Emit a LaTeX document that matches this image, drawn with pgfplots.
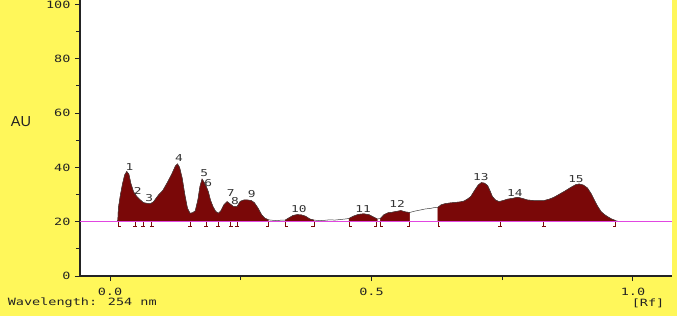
\documentclass[border=0pt]{standalone}
\usepackage{fontspec}
\setmainfont{Liberation Sans}
\newfontfamily\pixfont[FakeStretch=1.35]{DejaVu Sans Mono}
\usepackage{pgfplots}
\pgfplotsset{compat=1.18}
\definecolor{bgyellow}{RGB}{255,247,90}
\definecolor{peakred}{RGB}{122,8,8}
\definecolor{basemag}{RGB}{225,70,225}
\definecolor{axgray}{RGB}{35,35,35}

\pgfdeclareplotmark{brL}{\pgfpathmoveto{\pgfqpoint{0pt}{0pt}}\pgfpathlineto{\pgfqpoint{0pt}{-5pt}}\pgfpathlineto{\pgfqpoint{2.5pt}{-5pt}}\pgfusepathqstroke}
\pgfdeclareplotmark{brR}{\pgfpathmoveto{\pgfqpoint{0pt}{0pt}}\pgfpathlineto{\pgfqpoint{0pt}{-5pt}}\pgfpathlineto{\pgfqpoint{-2.5pt}{-5pt}}\pgfusepathqstroke}
\pgfdeclareplotmark{brI}{\pgfpathmoveto{\pgfqpoint{0pt}{0pt}}\pgfpathlineto{\pgfqpoint{0pt}{-5pt}}\pgfpathmoveto{\pgfqpoint{-2pt}{-5pt}}\pgfpathlineto{\pgfqpoint{2pt}{-5pt}}\pgfusepathqstroke}

\pgfplotstableread{
x y
0.013 20
0.015 20.5
0.016 25
0.020 30
0.024 34
0.028 37.2
0.032 38.5
0.036 37.5
0.040 34
0.045 31
0.051 29.3
0.058 28
0.064 27
0.070 26.8
0.077 26.6
0.083 27.3
0.093 29.9
0.101 31.5
0.109 34.2
0.118 37.5
0.125 40.5
0.129 41.3
0.133 40
0.138 36
0.143 30
0.148 25
0.153 23.1
0.158 23.3
0.163 24
0.168 28
0.172 33
0.176 35.7
0.180 34.5
0.184 33
0.188 31
0.192 28
0.197 25.5
0.202 23.8
0.207 23.1
0.212 24
0.218 26.3
0.224 27.4
0.230 26.5
0.236 25.6
0.243 25.6
0.249 27.5
0.256 28
0.263 28
0.270 27.8
0.276 27
0.283 25
0.290 22.5
0.296 21.3
0.303 20.7
0.312 20.5
0.320 20.4
0.328 20.6
0.335 20.6
0.342 21.4
0.350 22.3
0.358 22.6
0.366 22.5
0.374 22
0.382 21
0.390 20.6
0.400 20.4
0.410 20.5
0.420 20.7
0.430 20.6
0.440 20.8
0.450 21
0.457 21.2
0.465 22
0.475 22.7
0.485 22.9
0.495 22.6
0.503 21.8
0.511 21
0.517 21.2
0.524 22.6
0.532 23.3
0.540 23.5
0.548 23.8
0.556 24.1
0.565 23.6
0.573 23.4
0.583 23.9
0.593 24.3
0.603 24.7
0.613 24.9
0.620 25.2
0.627 25.3
0.633 26.2
0.640 26.6
0.650 26.9
0.660 27.1
0.670 27.3
0.677 27.6
0.684 28.4
0.690 29.3
0.697 31.5
0.704 33.5
0.710 34.4
0.716 34.2
0.722 33.3
0.727 31.2
0.731 29.3
0.737 28
0.744 27.4
0.752 27.8
0.760 28.3
0.770 28.6
0.779 29
0.788 28.6
0.798 28
0.810 27.8
0.820 27.8
0.830 27.8
0.840 28.3
0.849 29
0.860 30.2
0.870 31.3
0.880 32.5
0.890 33.6
0.897 33.9
0.905 33.5
0.913 32.4
0.920 30.3
0.926 28
0.932 25.8
0.939 23.7
0.945 22.7
0.951 21.9
0.959 21
0.967 20.4
0.972 20.1
}\trace

\pgfplotstableread{
x y label
0.037 40.3 1
0.053 31.4 2
0.075 28.6 3
0.132 43.4 4
0.180 37.8 5
0.188 34.1 6
0.231 30.5 7
0.239 27.7 8
0.271 30.2 9
0.361 24.6 10
0.484 24.6 11
0.549 26.5 12
0.709 36.4 13
0.774 30.7 14
0.891 35.6 15
}\peaklabels

\begin{document}
\begin{tikzpicture}
\fill[bgyellow] (0,0) rectangle (677pt,316pt);
\begin{axis}[
  at={(80pt,40pt)}, anchor=south west,
  scale only axis, width=592pt, height=276pt,
  xmin=-0.0574, xmax=1.0746, ymin=0, ymax=101.66,
  axis x line*=bottom, axis y line*=left,
  axis line style={axgray, line width=1.3pt, -},
  axis background/.style={fill=white},
  tick align=outside,
  major tick length=5pt, minor tick length=4pt,
  tick style={axgray, line width=1pt},
  ytick={0,20,40,60,80,100},
  minor ytick={10,30,50,70,90},
  xtick={0,0.5,1}, xticklabels={0.0,0.5,1.0},
  minor xtick={0.25,0.75},
  /pgf/number format/assume math mode=true,
  tick label style={font=\pixfont\fontsize{10}{10}\selectfont, text=axgray},
  yticklabel style={xshift=-1pt},
  xticklabel style={yshift=-4pt},
  ylabel={AU},
  every axis y label/.style={at={(axis description cs:-0.0997,0.558)}, anchor=center, font=\fontsize{14.5}{15}\selectfont, text=axgray},
  clip=false,
]
% filled peak regions
\addplot[fill=peakred, draw=peakred, line width=0.4pt] table[x=x,y=y, restrict x to domain=0.013:0.3035] {\trace} -- (axis cs:0.303,20) -- cycle;
\addplot[fill=peakred, draw=peakred, line width=0.4pt] table[x=x,y=y, restrict x to domain=0.3345:0.3905] {\trace} -- (axis cs:0.390,20) -- (axis cs:0.335,20) -- cycle;
\addplot[fill=peakred, draw=peakred, line width=0.4pt] table[x=x,y=y, restrict x to domain=0.4565:0.5115] {\trace} -- (axis cs:0.511,20) -- (axis cs:0.457,20) -- cycle;
\addplot[fill=peakred, draw=peakred, line width=0.4pt] table[x=x,y=y, restrict x to domain=0.5165:0.5735] {\trace} -- (axis cs:0.573,20) -- (axis cs:0.517,20) -- cycle;
\addplot[fill=peakred, draw=peakred, line width=0.4pt] table[x=x,y=y, restrict x to domain=0.6265:0.9675] {\trace} -- (axis cs:0.967,20) -- (axis cs:0.627,20) -- cycle;
% trace
\addplot[draw=black!75, line width=0.5pt] table[x=x,y=y] {\trace};
% baseline
\addplot[basemag, line width=0.9pt] coordinates {(-0.0574,20) (1.0746,20)};
% peak boundary markers
\addplot[only marks, mark=brL, peakred, mark options={line width=0.8pt}] coordinates {(0.016,20) (0.335,20) (0.457,20) (0.517,20) (0.627,20)};
\addplot[only marks, mark=brR, peakred, mark options={line width=0.8pt}] coordinates {(0.303,20) (0.390,20) (0.510,20) (0.573,20) (0.967,20)};
\addplot[only marks, mark=brI, peakred, mark options={line width=0.8pt}] coordinates {(0.048,20) (0.064,20) (0.080,20) (0.153,20) (0.184,20) (0.207,20) (0.231,20) (0.243,20) (0.746,20) (0.829,20)};
% peak numbers
\addplot[draw=none, mark=none, nodes near coords, point meta=explicit symbolic,
  nodes near coords style={anchor=center, inner sep=0pt, font=\pixfont\fontsize{9.5}{9.5}\selectfont, text=black!80}]
  table[x=x, y=y, meta=label] {\peaklabels};
\node[anchor=west, font=\pixfont\fontsize{10}{10}\selectfont, text=axgray] at (axis description cs:-0.128,-0.098) {Wavelength: 254 nm};
\node[anchor=east, font=\pixfont\fontsize{10}{10}\selectfont, text=axgray] at (axis description cs:0.993,-0.098) {[Rf]};
\end{axis}
\pgfresetboundingbox
\path[use as bounding box] (0,0) rectangle (677pt,316pt);
\end{tikzpicture}
\end{document}
